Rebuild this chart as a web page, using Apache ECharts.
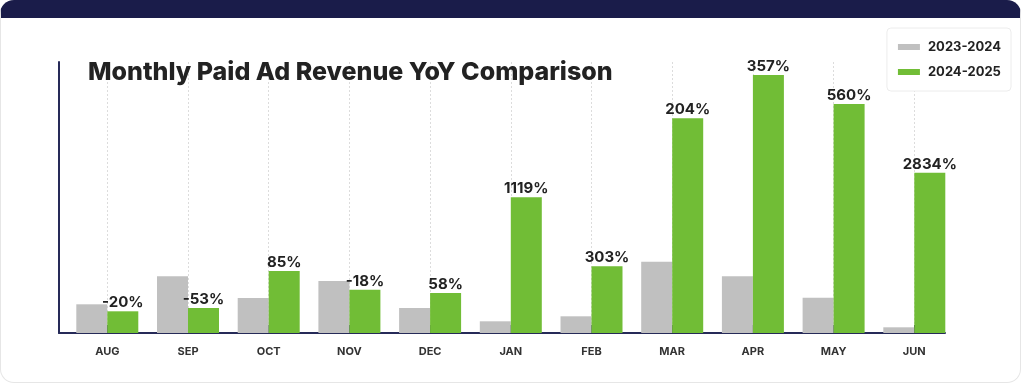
<!DOCTYPE html>
<html>
<head>
<meta charset="utf-8">
<script src="https://cdn.jsdelivr.net/npm/echarts@6/dist/echarts.min.js"></script>
<style>
  html, body { margin: 0; padding: 0; background: #ffffff; }
  #card {
    position: absolute; left: 0; top: 0; width: 1019px; height: 364px;
    border: 1px solid #e6e6e6; border-top: 18px solid #1a1c4a;
    border-radius: 14px; background: #ffffff; box-sizing: content-box;
  }
  #chart { position: absolute; left: 0; top: 0; width: 1024px; height: 385px; }
</style>
</head>
<body>
<div id="card"></div>
<div id="chart"></div>
<script>
const categories = ['AUG', 'SEP', 'OCT', 'NOV', 'DEC', 'JAN', 'FEB', 'MAR', 'APR', 'MAY', 'JUN'];
const series2324 = [28.7, 56.7, 35, 52, 25, 11.7, 16.7, 71.3, 56.7, 35.3, 5.7];
const series2425 = [21.7, 25, 62, 43.3, 40, 135.7, 66.7, 214.7, 258, 229, 160.3];
const yoyLabels = ['-20%', '-53%', '85%', '-18%', '58%', '1119%', '303%', '204%', '357%', '560%', '2834%'];
const seriesNames = ['2023-2024', '2024-2025'];

const navy = '#262a58';
const font = 'Inter, "Noto Sans", sans-serif';

const chart = echarts.init(document.getElementById('chart'), null, { renderer: 'canvas' });
chart.setOption({
  animation: false,
  textStyle: { fontFamily: font },
  title: {
    text: 'Monthly Paid Ad Revenue YoY Comparison',
    left: 83, top: 55,
    textStyle: { fontFamily: font, fontSize: 25, fontWeight: 800, color: '#222222' }
  },
  legend: {
    data: seriesNames,
    orient: 'vertical',
    right: 13, top: 28,
    backgroundColor: '#ffffff',
    borderColor: '#ececec', borderWidth: 1, borderRadius: 4,
    padding: [12, 10, 12, 11],
    itemGap: 11,
    itemWidth: 22, itemHeight: 6,
    icon: 'rect',
    textStyle: { fontFamily: font, fontSize: 13, fontWeight: 'bold', color: '#222222', lineHeight: 14, padding: [0, 0, 0, 3] }
  },
  grid: [
    { left: 59, right: 79, top: 62, bottom: 52 },
    { left: 107.3, right: 109.7, top: 62, bottom: 52 }
  ],
  xAxis: [
    {
      gridIndex: 0, type: 'value', min: 0, max: 1,
      axisLine: { show: true, onZero: false, lineStyle: { color: navy, width: 2 } },
      axisTick: { show: false }, axisLabel: { show: false }, splitLine: { show: false }
    },
    {
      gridIndex: 1, type: 'category', data: categories, boundaryGap: false,
      axisLine: { show: false },
      axisTick: { show: true, inside: true, length: 8, lineStyle: { color: navy, width: 2 } },
      axisLabel: { margin: 13, fontFamily: font, fontSize: 11, fontWeight: 'bold', color: '#333333' },
      splitLine: { show: true, lineStyle: { color: '#dcdcdc', type: [2, 2], width: 1 } }
    }
  ],
  yAxis: [
    {
      gridIndex: 0, type: 'value', min: 0, max: 1,
      axisLine: { show: true, onZero: false, lineStyle: { color: navy, width: 2 } },
      axisTick: { show: false }, axisLabel: { show: false }, splitLine: { show: false }
    },
    {
      gridIndex: 1, type: 'value', min: 0, max: 271,
      axisLine: { show: false }, axisTick: { show: false }, axisLabel: { show: false }, splitLine: { show: false }
    }
  ],
  series: [
    {
      name: seriesNames[0], type: 'bar', xAxisIndex: 1, yAxisIndex: 1,
      data: series2324, barWidth: 31, barGap: '0%', clip: false, z: 1,
      itemStyle: { color: '#c0c0c0' }
    },
    {
      name: seriesNames[1], type: 'bar', xAxisIndex: 1, yAxisIndex: 1,
      data: series2425, barWidth: 31, barGap: '0%', clip: false, z: 1,
      itemStyle: { color: '#71bd36' },
      label: {
        show: true, position: 'top', distance: 1,
        formatter: p => yoyLabels[p.dataIndex],
        fontFamily: font, fontSize: 15, fontWeight: 'bold', color: '#222222'
      }
    }
  ]
});
</script>
</body>
</html>
